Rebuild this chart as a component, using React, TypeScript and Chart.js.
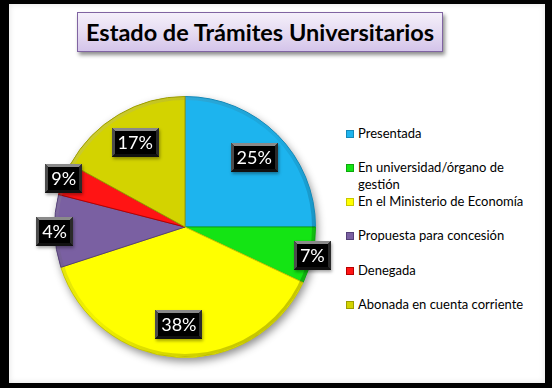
import React, { useEffect, useRef } from "react";
import { Chart, registerables } from "chart.js";

Chart.register(...registerables);

const chartTitle = "Estado de Trámites Universitarios";
const categories = [
  "Presentada",
  "En universidad/órgano de gestión",
  "En el Ministerio de Economía",
  "Propuesta para concesión",
  "Denegada",
  "Abonada en cuenta corriente",
];
const values = [25, 7, 38, 9, 4, 17];
const valueLabels = ["25%", "7%", "38%", "4%", "9%", "17%"];
const sliceColors = ["#1DB4EE", "#14E414", "#FFFF00", "#7A60A2", "#FF1414", "#D3D300"];
const sliceEdges = ["#1489B8", "#0DA80D", "#C8C800", "#554078", "#B80000", "#9C9C00"];

const pieShadow = {
  id: "pieShadow",
  beforeDatasetsDraw(chart: any) {
    const arc = chart.getDatasetMeta(0).data[0];
    if (!arc) return;
    const { x, y, outerRadius } = arc;
    const ctx = chart.ctx;
    ctx.save();
    ctx.shadowColor = "rgba(0,0,0,0.45)";
    ctx.shadowBlur = 8;
    ctx.shadowOffsetX = 2;
    ctx.shadowOffsetY = 4;
    ctx.beginPath();
    ctx.arc(x, y, outerRadius, 0, Math.PI * 2);
    ctx.fillStyle = "#999";
    ctx.fill();
    ctx.restore();
  },
  afterDatasetsDraw(chart: any) {
    const arc = chart.getDatasetMeta(0).data[0];
    if (!arc) return;
    const { x, y, outerRadius } = arc;
    const ctx = chart.ctx;
    ctx.save();
    const g = ctx.createLinearGradient(x - outerRadius, y - outerRadius, x + outerRadius, y + outerRadius);
    g.addColorStop(0, "rgba(255,255,255,0.35)");
    g.addColorStop(0.5, "rgba(0,0,0,0.05)");
    g.addColorStop(1, "rgba(0,0,0,0.3)");
    ctx.strokeStyle = g;
    ctx.lineWidth = 3;
    ctx.beginPath();
    ctx.arc(x, y, outerRadius - 2, 0, Math.PI * 2);
    ctx.stroke();
    ctx.restore();
  },
};

const boxLabels = {
  id: "boxLabels",
  afterDraw(chart: any) {
    const ctx = chart.ctx;
    const meta = chart.getDatasetMeta(0);
    const total = values.reduce((a, b) => a + b, 0);
    ctx.save();
    ctx.font = "18px Lato";
    ctx.textAlign = "center";
    ctx.textBaseline = "middle";
    meta.data.forEach((arc: any, i: number) => {
      const { x, y, startAngle, endAngle, outerRadius } = arc.getProps(
        ["x", "y", "startAngle", "endAngle", "outerRadius"],
        true
      );
      const mid = (startAngle + endAngle) / 2;
      const frac = values[i] / total;
      const d = frac < 0.1 ? outerRadius * 1.0 : outerRadius * 0.75;
      const cx = x + Math.cos(mid) * d;
      const cy = y + Math.sin(mid) * d;
      const text = valueLabels[i];
      const tw = ctx.measureText(text).width;
      const w = Math.round(tw + 12);
      const h = 29;
      const l = Math.round(cx - w / 2);
      const t = Math.round(cy - h / 2);
      const b = 3;
      ctx.save();
      ctx.shadowColor = "rgba(0,0,0,0.35)";
      ctx.shadowBlur = 3;
      ctx.shadowOffsetX = 1;
      ctx.shadowOffsetY = 2;
      ctx.fillStyle = "#000";
      ctx.fillRect(l, t, w, h);
      ctx.restore();
      const poly = (pts: number[][], col: string) => {
        ctx.beginPath();
        ctx.moveTo(pts[0][0], pts[0][1]);
        for (let k = 1; k < pts.length; k++) ctx.lineTo(pts[k][0], pts[k][1]);
        ctx.closePath();
        ctx.fillStyle = col;
        ctx.fill();
      };
      poly([[l, t], [l + w, t], [l + w - b, t + b], [l + b, t + b]], "#8a8a8a");
      poly([[l, t], [l + b, t + b], [l + b, t + h - b], [l, t + h]], "#4c4c4c");
      poly([[l + w, t], [l + w, t + h], [l + w - b, t + h - b], [l + w - b, t + b]], "#2a2a2a");
      poly([[l, t + h], [l + b, t + h - b], [l + w - b, t + h - b], [l + w, t + h]], "#111");
      ctx.fillStyle = "#000";
      ctx.fillRect(l + b, t + b, w - 2 * b, h - 2 * b);
      ctx.fillStyle = "#fff";
      ctx.fillText(text, cx, t + h / 2 + 1);
    });
    ctx.restore();
  },
};

function PieCanvas() {
  const ref = useRef<HTMLCanvasElement | null>(null);
  useEffect(() => {
    if (!ref.current) return;
    const chart = new Chart(ref.current, {
      type: "pie",
      data: {
        labels: categories,
        datasets: [
          {
            data: values,
            backgroundColor: sliceColors,
            borderColor: sliceEdges,
            borderWidth: 1,
          },
        ],
      },
      options: {
        responsive: false,
        animation: false,
        events: [],
        layout: { padding: { left: 44, right: 24, top: 36, bottom: 22 } },
        plugins: {
          legend: { display: false },
          title: { display: false },
          tooltip: { enabled: false },
        },
      },
      plugins: [pieShadow, boxLabels],
    });
    if ((document as any).fonts && (document as any).fonts.load) {
      (document as any).fonts.load("18px Lato").then(() => chart.update());
    }
    return () => chart.destroy();
  }, []);
  return (
    <canvas
      ref={ref}
      width={330}
      height={320}
      style={{ position: "absolute", left: 10, top: 60, width: 330, height: 320 }}
    />
  );
}

export default function App() {
  return (
    <div
      style={{
        position: "fixed",
        left: 0,
        top: 0,
        width: 558,
        height: 392,
        background: "#fff",
        overflow: "hidden",
        fontFamily: "Lato, sans-serif",
      }}
    >
      <div
        style={{
          position: "absolute",
          left: 0,
          top: 0,
          width: 552,
          height: 388,
          background: "#000",
        }}
      />
      <div
        style={{
          position: "absolute",
          left: 9,
          top: 4,
          width: 536,
          height: 379,
          background: "#fff",
          boxShadow: "inset 0 0 6px rgba(0,0,0,0.12)",
        }}
      />
      <div
        style={{
          position: "absolute",
          left: 77,
          top: 12,
          width: 364,
          height: 38,
          border: "1px solid #8064A2",
          background: "linear-gradient(to bottom, #F4EFFA 0%, #E6DCF2 50%, #D4C4EA 100%)",
          boxShadow: "2px 3px 4px rgba(0,0,0,0.45)",
          display: "flex",
          alignItems: "center",
          justifyContent: "center",
          fontWeight: 700,
          fontSize: 23.5,
          color: "#000",
          whiteSpace: "nowrap",
        }}
      >
        {chartTitle}
      </div>
      <PieCanvas />
      {categories.map((c, i) => {
        const lineTop = Math.round(133 + i * 34.3 - 8.5);
        return (
          <React.Fragment key={c}>
            <div
              style={{
                position: "absolute",
                left: 346,
                top: lineTop + 5,
                width: 6,
                height: 6,
                background: sliceColors[i],
                border: `1px solid ${sliceEdges[i]}`,
              }}
            />
            <div
              style={{
                position: "absolute",
                left: 358,
                top: lineTop,
                width: 185,
                fontSize: 13,
                lineHeight: "17px",
                color: "#000",
              }}
            >
              {c}
            </div>
          </React.Fragment>
        );
      })}
    </div>
  );
}
